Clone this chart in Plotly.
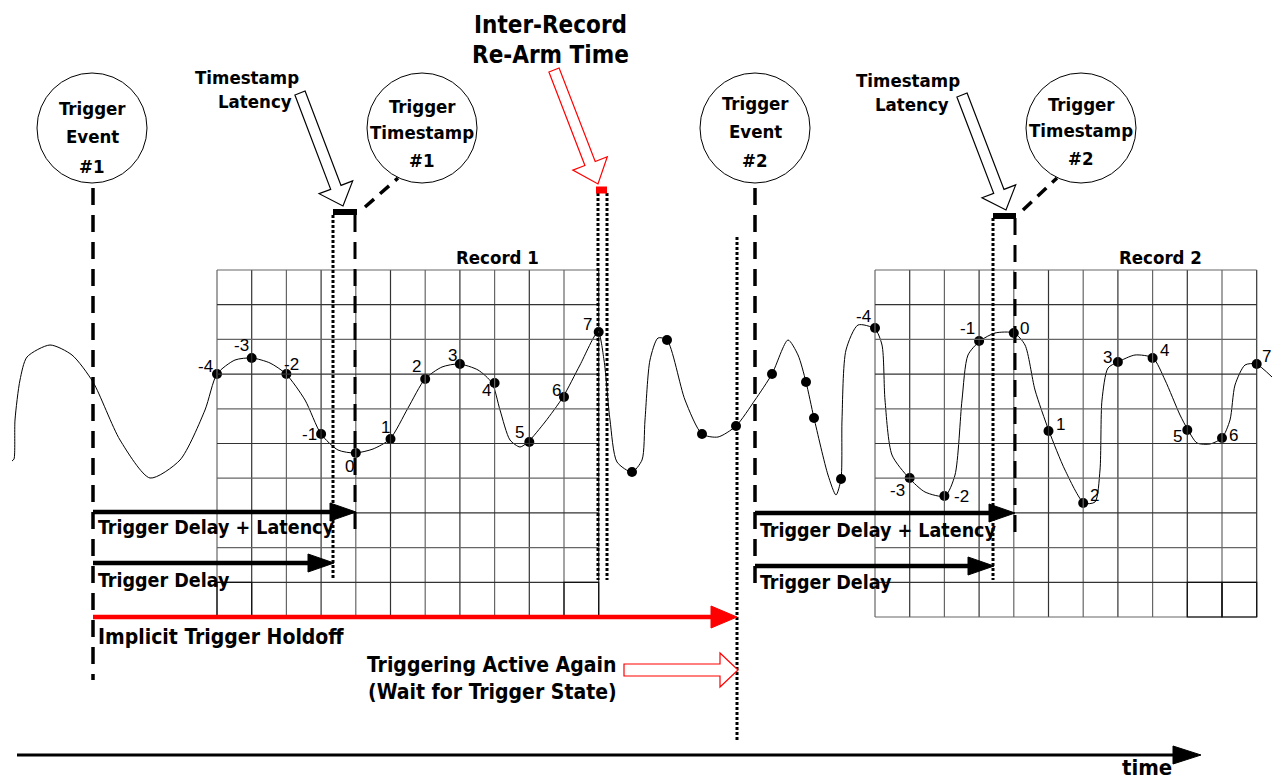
import math
import plotly.graph_objects as go

# --- data -----------------------------------------------------------------
W, H = 1272, 779
grid_left = [217, 875]
grid_top = 270
cell = 34.7
n_cols, n_rows = 11, 10
record_names = ["Record 1", "Record 2"]
record_label_x = [497, 1160]
boxed_cols = [[0, 10], [9, 10]]   # bottom-row cells drawn with a dark outline
sample_ids = [-4, -3, -2, -1, 0, 1, 2, 3, 4, 5, 6, 7]
record1_y = [374, 358, 374, 434, 453, 439, 379, 364, 383, 442, 397, 332]
record2_y = [328, 478, 496, 341, 333, 431, 503, 362, 358, 430, 438, 364]
# label offsets (dx, dy) per sample
record1_lbl = [(-12, -8), (-10, -13), (5, -10), (-12, 0), (-6, 13), (-5, -12),
               (-9, -13), (-7, -9), (-8, 7), (-10, -10), (-8, -7), (-11, -8)]
record2_lbl = [(-12, -12), (-12, 12), (17, 0), (-12, -13), (11, -5), (12, -7),
               (11, -8), (-10, -5), (12, -8), (-10, 6), (11, -3), (10, -8)]
free_x = [632, 667, 702, 736, 772, 806, 814, 841]
free_y = [472, 340, 434, 426, 374, 382, 418, 479]

curve = [(12, 461), (14, 459), (15, 420), (20, 380), (27, 357), (50, 345), (72, 355),
         (93, 382), (120, 440), (150, 478), (180, 460), (205, 410), (217, 374), (235, 360),
         (252, 358), (270, 363), (286, 374), (305, 400), (321, 434), (338, 450), (355, 453),
         (373, 449), (390, 439), (408, 408), (425, 379), (442, 367), (459, 364),
         (478, 370), (492, 383), (500, 410), (510, 440), (520, 447), (528, 442),
         (545, 422), (563, 397), (580, 365), (598, 332), (604, 360), (610, 420),
         (617, 462), (632, 472), (642, 460), (645, 420), (650, 360), (658, 338),
         (667, 340), (685, 400), (702, 434), (718, 437), (736, 426), (755, 400),
         (772, 374), (788, 340), (798, 355), (806, 382), (814, 418), (828, 475),
         (836, 495), (841, 479), (842, 420), (846, 350), (858, 325), (875, 329),
         (882, 345), (885, 400), (892, 455), (909, 478), (925, 492), (945, 496),
         (955, 475), (962, 400), (968, 355), (980, 341), (995, 333), (1014, 333),
         (1025, 345), (1035, 390), (1049, 431), (1065, 470), (1084, 503), (1095, 502),
         (1100, 470), (1102, 400), (1108, 368), (1118, 362), (1135, 355), (1153, 358),
         (1165, 380), (1180, 415), (1188, 430), (1197, 443), (1210, 444), (1222, 438),
         (1230, 420), (1235, 385), (1245, 365), (1256, 364), (1272, 377)]

circle_x = [92, 422, 755, 1081]
circle_y = 128
circle_lines = [["Trigger", "Event", "#1"], ["Trigger", "Timestamp", "#1"],
                ["Trigger", "Event", "#2"], ["Trigger", "Timestamp", "#2"]]
circle_line_dy = [[-20, 8, 38], [-22, 4, 32], [-25, 3, 32], [-24, 2, 30]]
radius = 55

BOLD = "Liberation Sans Narrow, DejaVu Sans Condensed, Arial Narrow, sans-serif"
PLAIN = "Liberation Sans, Arial, sans-serif"

fig = go.Figure()
shapes = []
ann = []


def line(x0, y0, x1, y1, color="black", width=1, dash="solid"):
    shapes.append(dict(type="line", x0=x0, y0=y0, x1=x1, y1=y1,
                       line=dict(color=color, width=width, dash=dash)))


def text(x, y, s, size=20, bold=True, color="black", xanchor="left", yanchor="middle"):
    ann.append(dict(x=x, y=y, text=f"<b>{s}</b>" if bold else s, showarrow=False,
                    xanchor=xanchor, yanchor=yanchor,
                    font=dict(family=BOLD if bold else PLAIN, size=size, color=color)))


def head(tx, ty, length, half, color):
    shapes.append(dict(type="path", path=f"M{tx},{ty} L{tx-length},{ty-half} L{tx-length},{ty+half} Z",
                       fillcolor=color, line=dict(color=color, width=1)))


def block_arrow(x0, y0, x1, y1, sw, hw, hl, color):
    L = math.hypot(x1 - x0, y1 - y0)
    dx, dy = (x1 - x0) / L, (y1 - y0) / L
    nx, ny = -dy, dx
    bx, by = x1 - dx * hl, y1 - dy * hl
    pts = [(x0 + nx * sw / 2, y0 + ny * sw / 2), (bx + nx * sw / 2, by + ny * sw / 2),
           (bx + nx * hw / 2, by + ny * hw / 2), (x1, y1),
           (bx - nx * hw / 2, by - ny * hw / 2), (bx - nx * sw / 2, by - ny * sw / 2),
           (x0 - nx * sw / 2, y0 - ny * sw / 2)]
    p = "M" + " L".join(f"{a:.1f},{b:.1f}" for a, b in pts) + " Z"
    shapes.append(dict(type="path", path=p, fillcolor="white", line=dict(color=color, width=1.2)))


# grids
for gl, name, lx, boxes in zip(grid_left, record_names, record_label_x, boxed_cols):
    gr = gl + n_cols * cell
    gb = grid_top + n_rows * cell
    for i in range(n_cols + 1):
        x = gl + i * cell
        line(x, grid_top, x, gb, color="#333" if i % 2 else "#666", width=1.2)
    for j in range(n_rows + 1):
        y = grid_top + j * cell
        line(gl, y, gr, y, color="#333" if j % 2 else "#666", width=1.2)
    for c in boxes:
        shapes.append(dict(type="rect", x0=gl + c * cell, x1=gl + (c + 1) * cell,
                           y0=gb - cell, y1=gb, line=dict(color="#111", width=1.2)))
    text(lx, grid_top - 13, name, size=18.5, xanchor="center")

# vertical marker lines
line(93, 188, 93, 680, width=3.5, dash="17px,10px")
line(755, 188, 755, 585, width=3.5, dash="17px,10px")
line(355, 215, 355, 533, width=3, dash="17px,10px")
line(1015, 218, 1015, 533, width=3, dash="17px,10px")
line(333, 215, 333, 580, width=3, dash="3px,2px")
line(993, 218, 993, 580, width=3, dash="3px,2px")
line(598, 193, 598, 580, width=3, dash="3px,2px")
line(607, 193, 607, 580, width=3, dash="3px,2px")
line(737, 237, 737, 742, width=3, dash="3px,2px")

# timestamp bars and leader lines
line(333, 212, 357, 212, width=6)
line(993, 216, 1016, 216, width=6)
line(596, 190, 607, 190, color="red", width=7)
line(365, 207, 398, 178, width=3.5, dash="12px,8px")
line(1023, 210, 1057, 178, width=3.5, dash="12px,8px")

# circles
for cx, lines_, dys in zip(circle_x, circle_lines, circle_line_dy):
    shapes.append(dict(type="circle", x0=cx - radius, x1=cx + radius, y0=circle_y - radius,
                       y1=circle_y + radius, line=dict(color="black", width=1)))
    for s, dy in zip(lines_, dys):
        text(cx, circle_y + dy, s, size=18.5, xanchor="center")

# hollow arrows
block_arrow(300, 93, 343, 206, 11, 36, 20, "black")
block_arrow(962, 95, 1006, 210, 11, 36, 20, "black")
block_arrow(554, 70, 598, 184, 11, 37, 22, "red")
block_arrow(624, 670, 738, 670, 12, 34, 18, "red")

# horizontal arrows
line(93, 512, 335, 512, width=4.5)
head(356, 512, 26, 9, "black")
line(93, 563, 312, 563, width=4.5)
head(334, 563, 26, 9, "black")
line(93, 617, 715, 617, color="red", width=4.5)
head(737, 617, 26, 11, "red")
line(755, 513, 994, 513, width=4.5)
head(1015, 513, 26, 9, "black")
line(755, 566, 972, 566, width=4.5)
head(994, 566, 26, 9, "black")
line(17, 755, 1175, 755, width=3)
head(1201, 755, 28, 9, "black")

# labels
text(96, 527, "Trigger Delay + Latency", size=19.5)
text(96, 580, "Trigger Delay", size=19.5)
text(96, 637, "Implicit Trigger Holdoff", size=21)
text(758, 530, "Trigger Delay + Latency", size=19.5)
text(758, 582, "Trigger Delay", size=19.5)
text(618, 665, "Triggering Active Again", size=21, xanchor="right")
text(366, 692, "(Wait for Trigger State)", size=21)
text(1147, 767, "time", size=22, xanchor="center")
text(550, 25, "Inter-Record", size=24, xanchor="center")
text(550, 55, "Re-Arm Time", size=24, xanchor="center")
text(247, 77, "Timestamp", size=18.5, xanchor="center")
text(255, 101, "Latency", size=18.5, xanchor="center")
text(908, 80, "Timestamp", size=18.5, xanchor="center")
text(912, 104, "Latency", size=18.5, xanchor="center")

# waveform
fig.add_trace(go.Scatter(x=[p[0] for p in curve], y=[p[1] for p in curve], mode="lines",
                         line=dict(color="black", width=1, shape="spline", smoothing=0.7),
                         hoverinfo="skip"))
for gl, ys, offs in [(grid_left[0], record1_y, record1_lbl), (grid_left[1], record2_y, record2_lbl)]:
    xs = [gl + (k + 4) * cell for k in sample_ids]
    fig.add_trace(go.Scatter(x=xs, y=ys, mode="markers",
                             marker=dict(color="black", size=10), hoverinfo="skip"))
    for k, x, y, (ox, oy) in zip(sample_ids, xs, ys, offs):
        text(x + ox, y + oy, str(k), size=17, bold=False, xanchor="center")
fig.add_trace(go.Scatter(x=free_x, y=free_y, mode="markers",
                         marker=dict(color="black", size=10), hoverinfo="skip"))

fig.update_layout(width=W, height=H, margin=dict(l=0, r=0, t=0, b=0),
                  paper_bgcolor="white", plot_bgcolor="white", showlegend=False,
                  shapes=shapes, annotations=ann,
                  xaxis=dict(range=[0, W], visible=False, fixedrange=True),
                  yaxis=dict(range=[H, 0], visible=False, fixedrange=True))
fig.write_html("out.html", config={"displayModeBar": False},
               post_script="document.body.style.margin='0';")
